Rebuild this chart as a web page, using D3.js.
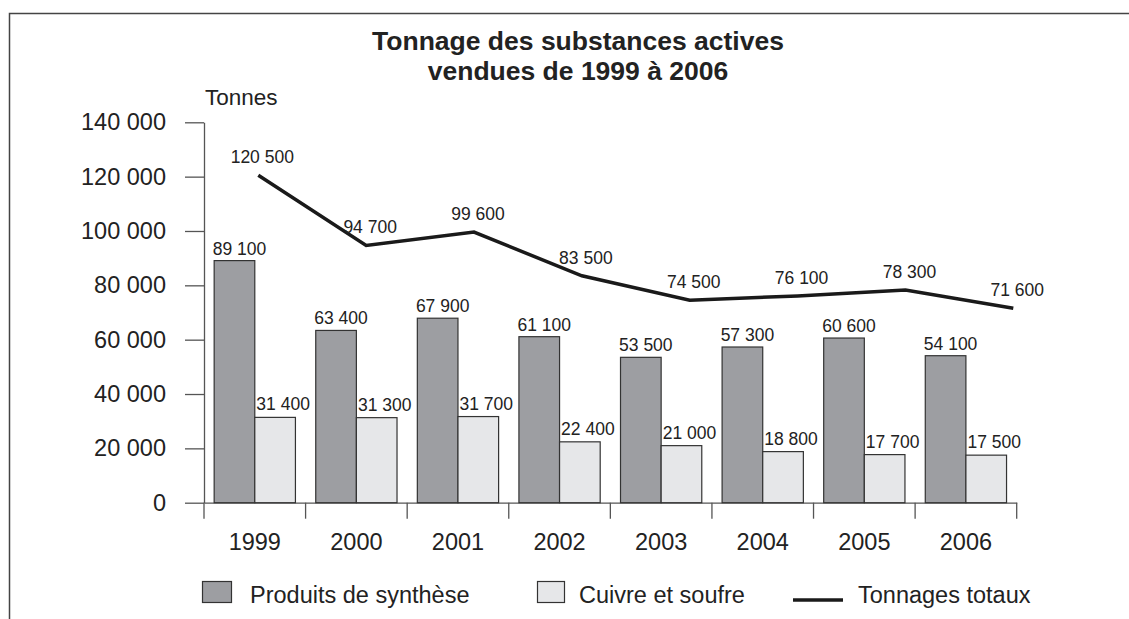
<!DOCTYPE html>
<html>
<head>
<meta charset="utf-8">
<script src="https://cdn.jsdelivr.net/npm/d3@7"></script>
<style>
  body { margin: 0; background: #fff; }
  svg { display: block; font-family: "Liberation Sans", Arial, sans-serif; }
</style>
</head>
<body>
<div class="chart"></div>
<script>
// data
var years = ["1999", "2000", "2001", "2002", "2003", "2004", "2005", "2006"];
var synthese = [89100, 63400, 67900, 61100, 53500, 57300, 60600, 54100];
var cuivre = [31400, 31300, 31700, 22400, 21000, 18800, 17700, 17500];
var totaux = [120500, 94700, 99600, 83500, 74500, 76100, 78300, 71600];
var yTicks = [0, 20000, 40000, 60000, 80000, 100000, 120000, 140000];
var seriesNames = ["Produits de synthèse", "Cuivre et soufre", "Tonnages totaux"];

var W = 1129, H = 619;
var fr = d3.formatLocale({decimal: ",", thousands: " ", grouping: [3], currency: ["", ""]});
var fmt = fr.format(",");

var svg = d3.select(".chart").append("svg")
    .attr("width", W).attr("height", H);

// frame (top + left only)
svg.append("path")
    .attr("d", "M9.5,619 V13.5 H1129")
    .attr("fill", "none").attr("stroke", "#444").attr("stroke-width", 1.5);

// title
var title = svg.append("text")
    .attr("text-anchor", "middle")
    .style("font-size", "26.5px").style("font-weight", "bold").attr("fill", "#222");
title.append("tspan").attr("x", 578).attr("y", 50).text("Tonnage des substances actives");
title.append("tspan").attr("x", 578).attr("y", 80).text("vendues de 1999 à 2006");

// scales
var y = d3.scaleLinear().domain([0, 140000]).range([502.7, 122.3]);
var x = d3.scaleBand().domain(years).range([204, 1016.7]).padding(0);
var inner = d3.scaleBand().domain(["s", "c"]).range([x.bandwidth() * 0.1, x.bandwidth() * 0.9]);
// the total line is spaced on its own in the original
var xl = d3.scalePoint().domain(years).range([258.3, 1013.3]);

// y axis
var yAxis = svg.append("g")
    .attr("transform", "translate(204,0)")
    .call(d3.axisLeft(y).tickValues(yTicks).tickSize(19).tickSizeOuter(0).tickPadding(19)
        .tickFormat(fmt));
yAxis.selectAll("path, line").attr("stroke", "#555").attr("stroke-width", 1.3);
yAxis.selectAll("text").style("font-size", "23.5px").attr("fill", "#222")
    .attr("font-family", "Liberation Sans, Arial, sans-serif");

svg.append("text")
    .attr("x", 205).attr("y", 105)
    .style("font-size", "22.5px").attr("fill", "#222")
    .text("Tonnes");

// x axis
var xAxis = svg.append("g")
    .attr("transform", "translate(0," + y(0) + ")")
    .call(d3.axisBottom(x).tickSize(0).tickSizeOuter(0).tickPadding(31));
xAxis.select(".domain").attr("stroke", "#555").attr("stroke-width", 1.3);
xAxis.selectAll("text").style("font-size", "23.5px").attr("fill", "#222")
    .attr("font-family", "Liberation Sans, Arial, sans-serif");
xAxis.selectAll("line.sep")
    .data(years.map(function(d){ return x(d); }).concat([x.range()[1]]))
    .join("line").attr("class", "sep")
    .attr("x1", function(d){ return d; }).attr("x2", function(d){ return d; })
    .attr("y1", 0).attr("y2", 16)
    .attr("stroke", "#555").attr("stroke-width", 1.3);

// bars
var groups = svg.append("g").selectAll("g")
    .data(years)
    .join("g")
    .attr("transform", function(d){ return "translate(" + x(d) + ",0)"; });

groups.append("rect")
    .attr("x", inner("s")).attr("width", inner.bandwidth())
    .attr("y", function(d, i){ return y(synthese[i]); })
    .attr("height", function(d, i){ return y(0) - y(synthese[i]); })
    .attr("fill", "#9d9ea2").attr("stroke", "#333").attr("stroke-width", 1.2);

groups.append("rect")
    .attr("x", inner("c")).attr("width", inner.bandwidth())
    .attr("y", function(d, i){ return y(cuivre[i]); })
    .attr("height", function(d, i){ return y(0) - y(cuivre[i]); })
    .attr("fill", "#e6e7e9").attr("stroke", "#333").attr("stroke-width", 1.2);

groups.append("text")
    .attr("x", inner("s") + inner.bandwidth() / 2 + 5)
    .attr("y", function(d, i){ return y(synthese[i]) - 6; })
    .attr("text-anchor", "middle").style("font-size", "17.5px").attr("fill", "#222")
    .text(function(d, i){ return fmt(synthese[i]); });

groups.append("text")
    .attr("x", inner("c") + inner.bandwidth() / 2 + 8)
    .attr("y", function(d, i){ return y(cuivre[i]) - 7; })
    .attr("text-anchor", "middle").style("font-size", "17.5px").attr("fill", "#222")
    .text(function(d, i){ return fmt(cuivre[i]); });

// total line
var line = d3.line()
    .x(function(d, i){ return xl(years[i]); })
    .y(function(d){ return y(d); });

svg.append("path")
    .attr("d", line(totaux))
    .attr("fill", "none").attr("stroke", "#1a1a1a").attr("stroke-width", 3.5);

svg.append("g").selectAll("text")
    .data(totaux)
    .join("text")
    .attr("x", function(d, i){ return xl(years[i]) + 4; })
    .attr("y", function(d){ return y(d) - 12; })
    .attr("text-anchor", "middle").style("font-size", "17.5px").attr("fill", "#222")
    .text(function(d){ return fmt(d); });

// legend
var lg = svg.append("g").style("font-size", "23.5px").attr("fill", "#222");
lg.append("rect").attr("x", 202.5).attr("y", 581.5).attr("width", 29).attr("height", 21)
    .attr("fill", "#9d9ea2").attr("stroke", "#333").attr("stroke-width", 1.2);
lg.append("text").attr("x", 250).attr("y", 603).text(seriesNames[0]);
lg.append("rect").attr("x", 537.5).attr("y", 581.5).attr("width", 27).attr("height", 21)
    .attr("fill", "#e6e7e9").attr("stroke", "#333").attr("stroke-width", 1.2);
lg.append("text").attr("x", 579).attr("y", 603).text(seriesNames[1]);
lg.append("line").attr("x1", 793).attr("x2", 843).attr("y1", 600).attr("y2", 600)
    .attr("stroke", "#1a1a1a").attr("stroke-width", 3.5);
lg.append("text").attr("x", 858).attr("y", 603).text(seriesNames[2]);
</script>
</body>
</html>
